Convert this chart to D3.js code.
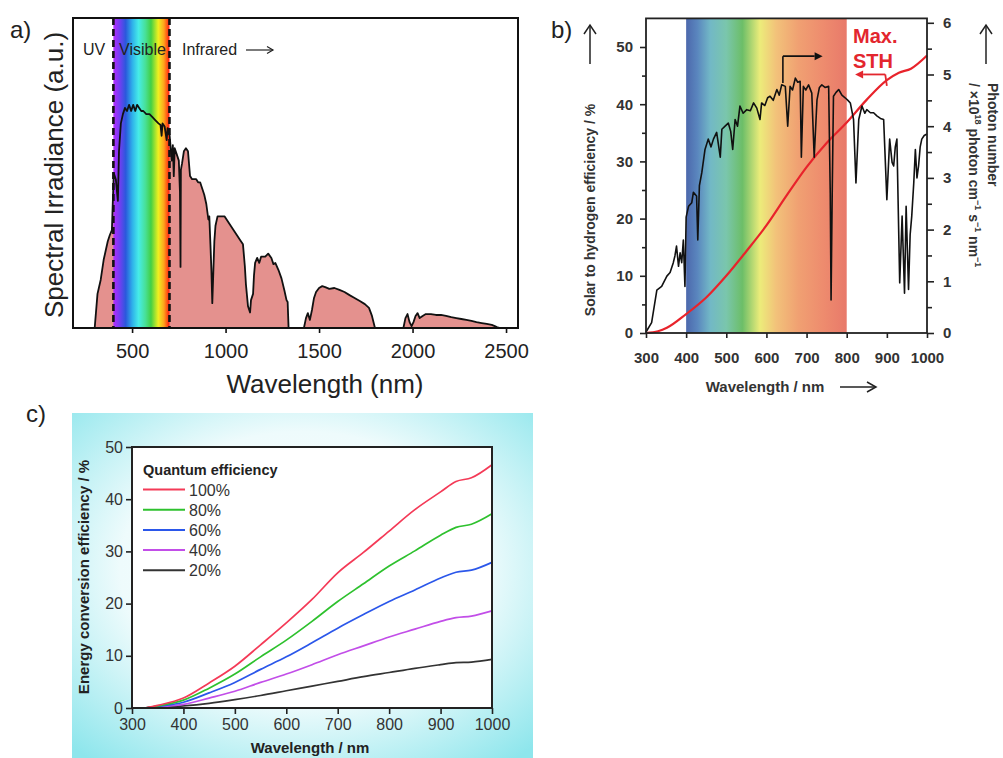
<!DOCTYPE html>
<html>
<head>
<meta charset="utf-8">
<script src="https://cdn.jsdelivr.net/npm/d3@7"></script>
<style>
  body { margin: 0; background: #fff; }
  text { font-family: "Liberation Sans", Arial, sans-serif; }
</style>
</head>
<body>
<svg id="fig" width="1003" height="758"></svg>
<script>
// ---- a) solar spectrum, [wavelength nm, irradiance a.u.]
const irradiance = [
  [300,0],[315,11],[332,15.5],[348,22],[359,25],[370,28],[381,30],[392,31.6],[402,50],[413,48],
  [424,41],[430,57],[440,66],[451,69],[462,71],[473,70],[484,72],[495,70],[506,72],[517,70],
  [527,72],[538,71],[549,70],[560,70],[576,69],[593,69],[609,68],[625,67],[641,66],[652,65.5],
  [658,62],[663,66],[674,65],[685,60.6],[690,64.5],[701,62],[712,54],[718,59],[723,49],[728,58],
  [739,56],[750,54],[756,44],[759,19.7],[761,51],[767,53],[777,57],[788,58],[799,57],[810,49],
  [821,48],[832,48],[843,48],[853,47],[864,47],[875,45],[886,43],[897,40],[908,35],[913,36],
  [919,27],[924,19],[929,8],[935,19],[940,28],[946,33],[957,36],[973,36],[995,36],[1016,34],
  [1038,32],[1060,30],[1082,28],[1093,27],[1103,20],[1109,14],[1120,7],[1131,5],[1136,9],[1147,11],
  [1152,17],[1158,21],[1169,22.6],[1180,21],[1190,23],[1212,23],[1228,24],[1245,22.6],[1256,20.6],[1266,21],
  [1283,18.7],[1299,16],[1315,12],[1326,9],[1332,8.4],[1337,0],[1419,0],[1430,3.2],[1440,4.8],[1451,2.6],
  [1462,5.8],[1473,9.7],[1484,11.6],[1500,12.9],[1517,13.5],[1533,13.2],[1555,12.6],[1582,12.9],[1609,12.3],[1636,11.6],
  [1663,10.6],[1690,9.7],[1718,8.7],[1745,7.7],[1767,6.5],[1783,3.9],[1799,0],[1951,0],[1962,3.2],[1973,4.5],
  [1984,1.9],[1995,0.6],[2005,1.9],[2016,3.9],[2027,4.8],[2038,3.2],[2054,3.9],[2071,4.5],[2098,4.5],[2125,4.2],
  [2152,4.2],[2179,3.9],[2207,3.5],[2234,3.2],[2261,2.9],[2288,2.6],[2315,2.3],[2342,1.9],[2370,1.6],[2397,1.3],
  [2424,1.0],[2440,0.6],[2451,0.3],[2468,0]
]
const aTicks = [500, 1000, 1500, 2000, 2500]

// ---- b) photon number (right axis) and max STH (left axis)
const photons = [
  [300,0.02],[314,0.2],[327,0.83],[339,0.9],[352,1.1],[360,1.17],[368,1.36],[372,1.49],[376,1.68],[381,1.29],
  [385,1.55],[389,1.36],[393,1.8],[397,0.9],[400,2.24],[406,2.45],[414,2.52],[418,2.72],[426,2.65],[429,1.8],
  [433,2.85],[439,3.1],[447,3.55],[455,3.75],[462,3.6],[468,3.75],[476,3.88],[485,3.4],[489,3.94],[497,4.0],
  [505,4.06],[511,3.9],[516,3.55],[522,4.13],[528,4.0],[534,4.39],[542,4.25],[551,4.32],[560,4.3],[568,4.45],
  [576,4.35],[584,4.13],[588,4.45],[596,4.4],[603,4.55],[609,4.58],[617,4.5],[626,4.71],[632,4.6],[638,4.8],
  [647,4.77],[653,4.0],[659,4.77],[665,4.7],[672,4.93],[678,4.85],[684,4.87],[687,3.4],[692,4.77],[698,4.7],
  [705,4.8],[713,4.64],[719,3.4],[726,4.51],[732,4.75],[738,4.8],[746,4.75],[755,4.77],[759,2.71],[761,0.64],
  [764,2.78],[767,4.58],[773,4.65],[780,4.71],[788,4.6],[796,4.55],[803,4.5],[809,4.45],[817,4.13],[823,2.9],
  [830,4.13],[838,4.39],[845,4.25],[850,4.32],[859,4.26],[867,4.26],[875,4.2],[884,4.15],[892,4.13],[900,2.58],
  [907,3.75],[913,3.3],[917,3.23],[921,3.6],[925,3.75],[932,0.97],[938,2.26],[944,0.77],[948,2.45],[954,0.84],
  [958,1.9],[962,2.26],[967,2.9],[971,3.55],[975,3.0],[979,3.23],[983,3.6],[987,3.75],[993,3.82],[1000,3.85]
]
const maxSTH = [
  [300,0],[330,0.3],[352,0.9],[400,3.3],[450,6.2],[500,10],[550,14.3],[600,18.8],[650,24],
  [700,29],[750,33.2],[800,36.8],[850,40.8],[900,44.2],[930,45.5],[960,46.2],[1000,48.5]
]
const bXTicks = [300, 400, 500, 600, 700, 800, 900, 1000]
const bLeftTicks = [0, 10, 20, 30, 40, 50]
const bLeftMinor = [5, 15, 25, 35, 45]
const bRightTicks = [0, 1, 2, 3, 4, 5, 6]
const bRightMinor = [0.5, 1.5, 2.5, 3.5, 4.5, 5.5]

// ---- c) energy conversion efficiency for several quantum efficiencies
const cWavelengths = [325, 350, 400, 450, 500, 550, 600, 650, 700, 750, 800, 850, 900, 930, 960, 1000]
const qe100 = [0, 0.5, 1.9, 4.8, 8.0, 12.1, 16.3, 20.8, 25.9, 29.8, 33.9, 38.0, 41.4, 43.4, 44.1, 46.6]
const qe80  = [0, 0.4, 1.5, 3.8, 6.5, 9.8, 13.0, 16.6, 20.4, 23.8, 27.2, 30.1, 33.1, 34.6, 35.2, 37.2]
const qe60  = [0, 0.3, 1.1, 2.9, 4.9, 7.4, 9.8, 12.5, 15.3, 17.9, 20.4, 22.6, 24.9, 26.0, 26.4, 27.9]
const qe40  = [0, 0.2, 0.7, 1.9, 3.2, 4.9, 6.5, 8.3, 10.2, 11.9, 13.6, 15.1, 16.6, 17.3, 17.6, 18.6]
const qe20  = [0, 0.1, 0.4, 0.9, 1.6, 2.4, 3.3, 4.2, 5.1, 6.0, 6.8, 7.6, 8.3, 8.7, 8.8, 9.3]
const qeLabels = ['100%', '80%', '60%', '40%', '20%']
const qeSeries = [qe100, qe80, qe60, qe40, qe20]
const qeColors = ['#f43a57', '#2ec12e', '#2b57ea', '#c24ee8', '#333333']
const cXTicks = [300, 400, 500, 600, 700, 800, 900, 1000]
const cYTicks = [0, 10, 20, 30, 40, 50]

const fmt = d3.format('d')
const svg = d3.select('#fig')
const defs = svg.append('defs')

function gradient(id, stops) {
  const lg = defs.append('linearGradient').attr('id', id)
    .attr('x1', 0).attr('x2', 1).attr('y1', 0).attr('y2', 0)
  stops.forEach(s => lg.append('stop').attr('offset', s[0]).attr('stop-color', s[1]))
}
gradient('rainbowA', [[0, '#b42cff'], [0.1, '#7a3cf4'], [0.22, '#2a58dc'], [0.34, '#2fb2ea'],
  [0.45, '#46ece8'], [0.57, '#48e098'], [0.67, '#42d044'], [0.8, '#eef020'], [0.9, '#ffa41c'], [1, '#ff1a10']])
gradient('bandB', [[0, '#4c68ac'], [0.07, '#5a86be'], [0.15, '#72b8c6'], [0.25, '#7ac6ac'],
  [0.35, '#6cbe68'], [0.46, '#ecec7a'], [0.56, '#f2c27a'], [0.7, '#f0a072'], [0.85, '#ee8c6e'], [1, '#e8796a']])

const bg = defs.append('radialGradient').attr('id', 'bgC')
  .attr('cx', '50%').attr('cy', '45%').attr('r', '72%')
bg.append('stop').attr('offset', 0).attr('stop-color', '#ffffff')
bg.append('stop').attr('offset', 0.55).attr('stop-color', '#eefbfc')
bg.append('stop').attr('offset', 1).attr('stop-color', '#8ee6ec')

// arrow helper: open (two strokes) or filled head at (x2, y2)
function arrow(g, x1, y1, x2, y2, color, width, head, spread, filled) {
  const ang = Math.atan2(y2 - y1, x2 - x1)
  const bx = x2 - head * Math.cos(ang), by = y2 - head * Math.sin(ang)
  const px = -Math.sin(ang) * spread, py = Math.cos(ang) * spread
  g.append('line')
    .attr('x1', x1).attr('y1', y1)
    .attr('x2', filled ? bx : x2).attr('y2', filled ? by : y2)
    .attr('stroke', color).attr('stroke-width', width)
  if (filled) {
    g.append('polygon')
      .attr('points', [[x2, y2], [bx + px, by + py], [bx - px, by - py]].join(' '))
      .attr('fill', color)
  } else {
    g.append('polyline')
      .attr('points', [[bx + px, by + py], [x2, y2], [bx - px, by - py]].join(' '))
      .attr('fill', 'none').attr('stroke', color).attr('stroke-width', width)
  }
}

function label(g, txt, x, y, size, opts = {}) {
  return g.append('text').attr('x', x).attr('y', y)
    .attr('font-size', size)
    .attr('font-weight', opts.bold ? 'bold' : 'normal')
    .attr('fill', opts.color || '#222')
    .attr('text-anchor', opts.anchor || 'start')
    .attr('transform', opts.rotate ? `rotate(${opts.rotate},${x},${y})` : null)
    .text(txt)
}

// ================= a)
const ga = svg.append('g')
const ax = d3.scaleLinear().domain([184, 2564]).range([73, 518])
const ay = d3.scaleLinear().domain([0, 100]).range([328, 18])

ga.append('path').datum(irradiance)
  .attr('d', d3.area().x(d => ax(d[0])).y0(ay(0)).y1(d => ay(d[1])))
  .attr('fill', '#e4918e')
ga.append('rect')
  .attr('x', ax(400)).attr('y', 18)
  .attr('width', ax(700) - ax(400)).attr('height', 310)
  .attr('fill', 'url(#rainbowA)')
ga.append('path').datum(irradiance)
  .attr('d', d3.line().x(d => ax(d[0])).y(d => ay(d[1])))
  .attr('fill', 'none').attr('stroke', '#111').attr('stroke-width', 1.8)
  .attr('stroke-linejoin', 'round')
;[400, 700].forEach(w => {
  ga.append('line').attr('x1', ax(w)).attr('x2', ax(w)).attr('y1', 18).attr('y2', 328)
    .attr('stroke', '#111').attr('stroke-width', 2.6).attr('stroke-dasharray', '7,4')
})
ga.append('rect').attr('x', 73).attr('y', 18).attr('width', 445).attr('height', 310)
  .attr('fill', 'none').attr('stroke', '#111').attr('stroke-width', 2)

const aAxis = ga.append('g').attr('transform', 'translate(0,328)')
  .call(d3.axisBottom(ax).tickValues(aTicks).tickFormat(fmt).tickSize(5).tickPadding(11).tickSizeOuter(0))
aAxis.select('.domain').remove()
aAxis.selectAll('line').attr('stroke', '#111').attr('stroke-width', 1.6)
aAxis.selectAll('text').attr('font-size', 20).attr('fill', '#222')
  .attr('font-family', '"Liberation Sans", Arial, sans-serif')

label(ga, 'a)', 10, 38, 24)
label(ga, 'Spectral Irradiance (a.u.)', 63, 175, 26, { anchor: 'middle', rotate: -90 })
label(ga, 'Wavelength (nm)', 325, 393, 26, { anchor: 'middle' })
label(ga, 'UV', 83, 55, 16)
label(ga, 'Visible', 119, 55, 16)
label(ga, 'Infrared', 182, 55, 16)
arrow(ga, 246, 50, 273, 50, '#222', 1.2, 6, 3.5, false)

// ================= b)
const gb = svg.append('g')
const bx = d3.scaleLinear().domain([300, 1000]).range([646, 927])
const byL = d3.scaleLinear().domain([0, 55]).range([333, 18.4])
const byR = d3.scaleLinear().domain([0, 6.085]).range([333, 18.4])

gb.append('rect')
  .attr('x', bx(400)).attr('y', 18.4)
  .attr('width', bx(800) - bx(400)).attr('height', 333 - 18.4)
  .attr('fill', 'url(#bandB)')
gb.append('path').datum(maxSTH)
  .attr('d', d3.line().curve(d3.curveMonotoneX).x(d => bx(d[0])).y(d => byL(d[1])))
  .attr('fill', 'none').attr('stroke', '#e8232b').attr('stroke-width', 2.2)
gb.append('path').datum(photons)
  .attr('d', d3.line().x(d => bx(d[0])).y(d => byR(d[1])))
  .attr('fill', 'none').attr('stroke', '#111').attr('stroke-width', 1.6)
  .attr('stroke-linejoin', 'round')

// frame
gb.append('rect').attr('x', 646).attr('y', 18.4).attr('width', 281).attr('height', 333 - 18.4)
  .attr('fill', 'none').attr('stroke', '#222').attr('stroke-width', 1.8)

function styleAxis(sel, size, bold) {
  sel.select('.domain').remove()
  sel.selectAll('line').attr('stroke', '#222').attr('stroke-width', 1.6)
  sel.selectAll('text').attr('font-size', size).attr('fill', '#333')
    .attr('font-weight', bold ? 'bold' : 'normal')
    .attr('font-family', '"Liberation Sans", Arial, sans-serif')
}
styleAxis(gb.append('g').attr('transform', 'translate(0,333)')
  .call(d3.axisBottom(bx).tickValues(bXTicks).tickFormat(fmt).tickSize(5).tickPadding(14).tickSizeOuter(0)), 15, true)
styleAxis(gb.append('g').attr('transform', 'translate(646,0)')
  .call(d3.axisLeft(byL).tickValues(bLeftTicks).tickFormat(fmt).tickSize(6).tickPadding(7).tickSizeOuter(0)), 15, true)
styleAxis(gb.append('g').attr('transform', 'translate(646,0)')
  .call(d3.axisLeft(byL).tickValues(bLeftMinor).tickSize(4).tickFormat('').tickSizeOuter(0)), 15, true)
styleAxis(gb.append('g').attr('transform', 'translate(927,0)')
  .call(d3.axisRight(byR).tickValues(bRightTicks).tickFormat(fmt).tickSize(7).tickPadding(9).tickSizeOuter(0)), 15, true)
styleAxis(gb.append('g').attr('transform', 'translate(927,0)')
  .call(d3.axisRight(byR).tickValues(bRightMinor).tickSize(5).tickFormat('').tickSizeOuter(0)), 15, true)

// annotations
gb.append('polyline')
  .attr('points', [[bx(641), byL(43.7)], [bx(641), byL(48.4)]].join(' '))
  .attr('fill', 'none').attr('stroke', '#111').attr('stroke-width', 1.6)
arrow(gb, bx(641), byL(48.4), bx(740), byL(48.4), '#111', 1.6, 8, 4, true)
gb.append('polyline')
  .attr('points', [[bx(900), byL(43.2)], [bx(896), byL(45.2)]].join(' '))
  .attr('fill', 'none').attr('stroke', '#e3262e').attr('stroke-width', 1.8)
arrow(gb, bx(896), byL(45.2), bx(821), byL(45.2), '#e3262e', 1.8, 8, 4, true)
label(gb, 'Max.', 853, 43, 20, { bold: true, color: '#e3262e' })
label(gb, 'STH', 853, 68, 20, { bold: true, color: '#e3262e' })

label(gb, 'b)', 551, 38, 24)
label(gb, 'Solar to hydrogen efficiency / %', 595, 210, 14, { bold: true, anchor: 'middle', rotate: -90, color: '#333' })
label(gb, 'Wavelength / nm', 765, 392, 15, { bold: true, anchor: 'middle', color: '#333' })
arrow(gb, 840, 387, 876, 387, '#222', 1.5, 9, 5, false)
arrow(gb, 590, 64, 590, 25, '#222', 1.5, 9, 6, false)
arrow(gb, 986, 64, 986, 25, '#222', 1.5, 9, 6, false)

label(gb, 'Photon number', 988, 83, 14, { bold: true, rotate: 90, color: '#333' })
const unit = gb.append('text').attr('x', 969).attr('y', 83)
  .attr('font-size', 14).attr('font-weight', 'bold').attr('fill', '#333')
  .attr('transform', 'rotate(90,969,83)')
const unitParts = [['/ ×10', false], ['18', true], [' photon cm', false], ['−1', true],
  [' s', false], ['−1', true], [' nm', false], ['−1', true]]
unitParts.forEach((p, i) => {
  const prevSup = i > 0 && unitParts[i - 1][1]
  unit.append('tspan')
    .attr('dy', p[1] ? -6 : (prevSup ? 6 : 0))
    .attr('font-size', p[1] ? 9 : 14)
    .text(p[0])
})

// ================= c)
const gc = svg.append('g')
gc.append('rect').attr('x', 72).attr('y', 413).attr('width', 461).attr('height', 345)
  .attr('fill', 'url(#bgC)')
const cx = d3.scaleLinear().domain([300, 1000]).range([132, 492])
const cy = d3.scaleLinear().domain([0, 50]).range([708, 447])
gc.append('rect').attr('x', 132).attr('y', 447).attr('width', 360).attr('height', 261)
  .attr('fill', '#fff')

const cLine = d3.line().curve(d3.curveMonotoneX)
  .x((d, i) => cx(cWavelengths[i])).y(d => cy(d))
qeSeries.slice().reverse().forEach((s, k) => {
  const i = qeSeries.length - 1 - k
  gc.append('path').datum(s).attr('d', cLine)
    .attr('fill', 'none').attr('stroke', qeColors[i]).attr('stroke-width', 1.7)
})
gc.append('rect').attr('x', 132).attr('y', 447).attr('width', 360).attr('height', 261)
  .attr('fill', 'none').attr('stroke', '#222').attr('stroke-width', 2)

styleAxis(gc.append('g').attr('transform', 'translate(0,708)')
  .call(d3.axisBottom(cx).tickValues(cXTicks).tickFormat(fmt).tickSize(6).tickPadding(5).tickSizeOuter(0)), 16, false)
styleAxis(gc.append('g').attr('transform', 'translate(132,0)')
  .call(d3.axisLeft(cy).tickValues(cYTicks).tickFormat(fmt).tickSize(6).tickPadding(3).tickSizeOuter(0)), 16, false)

label(gc, 'Quantum efficiency', 143, 475, 14.5, { bold: true, color: '#222' })
qeLabels.forEach((t, i) => {
  const yy = 489.5 + i * 20.2
  gc.append('line').attr('x1', 143).attr('x2', 185).attr('y1', yy).attr('y2', yy)
    .attr('stroke', qeColors[i]).attr('stroke-width', 2)
  label(gc, t, 189, yy + 6, 16, { color: '#333' })
})

label(gc, 'c)', 26, 422, 24)
label(gc, 'Energy conversion efficiency / %', 89, 577, 15, { bold: true, anchor: 'middle', rotate: -90 })
label(gc, 'Wavelength / nm', 310, 753, 15, { bold: true, anchor: 'middle' })
</script>
</body>
</html>
